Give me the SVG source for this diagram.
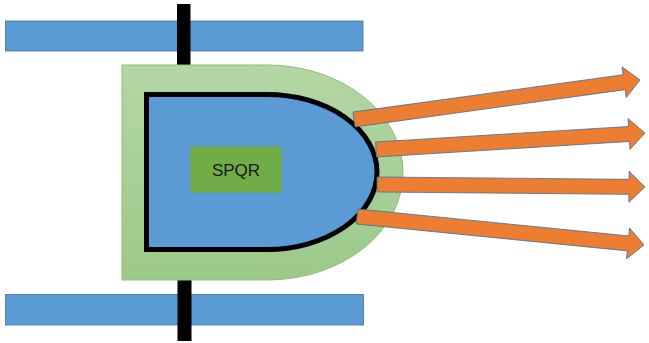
<svg xmlns="http://www.w3.org/2000/svg" width="649" height="343" viewBox="0 0 649 343">
<style>
.bar{fill:#5b9bd5;stroke:#41719c;stroke-width:0.8}
.post{fill:#000}
.arrow{fill:#ed7d31;stroke:#41719c;stroke-width:0.8;stroke-linejoin:miter}
.lbl{font-family:"Liberation Sans","DejaVu Sans",sans-serif;font-size:17px;fill:#1a1a1a;text-anchor:middle;dominant-baseline:central}
</style>
<defs>
<linearGradient id="gg" x1="0" y1="0" x2="0" y2="1">
<stop offset="0" stop-color="#b4d6a4"/>
<stop offset="1" stop-color="#9cc98a"/>
</linearGradient>
</defs>
<rect width="649" height="343" fill="#fff"/>
<g id="bar-top"><rect class="bar" x="5.5" y="21" width="357.5" height="30"/></g>
<g id="bar-bottom"><rect class="bar" x="5.5" y="294.5" width="358" height="30.5"/></g>
<g id="post-top"><rect class="post" x="177" y="4" width="13.5" height="62"/></g>
<g id="post-bottom"><rect class="post" x="177.5" y="277" width="14" height="64"/></g>
<g id="housing">
<path d="M122,65 H267 A136 107.5 0 0 1 267,280 H122 Z" fill="url(#gg)" stroke="#8cbf72" stroke-width="1"/>
</g>
<g id="core">
<path d="M146.5,94.5 H267 A110 77.5 0 0 1 267,249.5 H146.5 Z" fill="#5b9bd5" stroke="#000" stroke-width="5"/>
</g>
<g id="spqr">
<rect x="190" y="146" width="92" height="47" fill="#70ad47" stroke="#5b8fb8" stroke-width="0.8"/>
<text class="lbl" x="236" y="170.5">SPQR</text>
</g>
<g id="connectors">
<polygon class="arrow" transform="translate(354,119.5) rotate(-7.86)" points="0,-7.5 272.7,-7.5 272.7,-15.5 288.7,0 272.7,15.5 272.7,7.5 0,7.5"/>
<polygon class="arrow" transform="translate(376,149.5) rotate(-3.51)" points="0,-7.5 253.5,-7.5 253.5,-15.5 269.5,0 253.5,15.5 253.5,7.5 0,7.5"/>
<polygon class="arrow" transform="translate(377,184.5) rotate(0.53)" points="0,-7.5 252,-7.5 252,-15.5 268,0 252,15.5 252,7.5 0,7.5"/>
<polygon class="arrow" transform="translate(357,216.5) rotate(5.67)" points="0,-7.5 272.4,-7.5 272.4,-15.5 288.4,0 272.4,15.5 272.4,7.5 0,7.5"/>
</g>
</svg>
